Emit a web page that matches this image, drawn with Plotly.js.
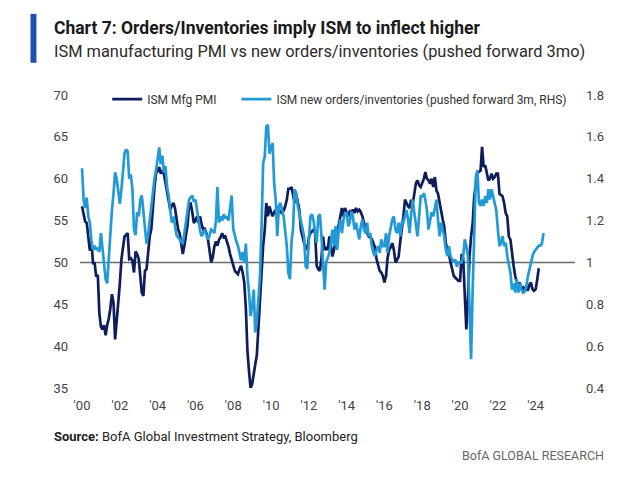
<!DOCTYPE html>
<html>
<head>
<meta charset="utf-8">
<script src="https://cdn.plot.ly/plotly-3.0.1.min.js"></script>
<style>
html,body{margin:0;padding:0;background:#fff;}
#chart{width:640px;height:495px;}
</style>
</head>
<body>
<div id="chart"></div>
<script>
// ---- Data (monthly) ----
const START_YEAR = 2000;  // first month: Jan 2000

// ISM Manufacturing PMI (left axis), Jan 2000 – Mar 2024
const ismPmi = [
  56.7,55.8,54.9,54.7,53.2,51.4,52.5,49.9,49.9,48.3,48.5,43.9, // 2000
  42.3,42.0,42.5,41.3,42.5,43.3,44.5,46.2,45.2,40.8,43.0,44.8, // 2001
  47.5,50.4,52.0,53.1,53.3,53.5,50.4,50.5,50.2,48.8,51.3,51.0, // 2002
  50.4,48.2,46.4,46.0,49.0,49.2,51.0,53.1,54.0,56.7,59.0,60.6, // 2003
  61.0,61.4,60.6,61.0,60.6,59.4,58.6,57.5,56.3,56.8,57.1,56.5, // 2004
  55.0,53.9,53.5,52.0,51.0,52.0,53.1,54.5,56.9,57.0,56.0,54.7, // 2005
  55.0,55.5,54.7,55.5,54.5,53.9,54.0,53.5,52.7,51.5,50.0,50.6, // 2006
  51.9,52.5,52.0,52.7,53.0,53.5,53.0,53.1,52.5,51.9,51.0,50.4, // 2007
  49.5,49.0,48.8,48.6,49.2,49.6,48.8,47.6,44.5,39.5,37.0,35.0, // 2008
  35.5,36.5,37.8,38.9,42.1,46.0,50.0,52.0,53.9,57.1,55.5,56.7, // 2009
  56.0,55.5,56.0,56.3,56.5,56.3,56.0,55.9,56.2,56.7,57.5,58.8, // 2010
  58.8,59.0,57.8,57.1,58.2,57.0,56.3,53.9,53.0,52.3,51.8,51.5, // 2011
  53.0,53.5,53.7,53.9,53.5,49.6,49.2,49.0,50.5,53.1,51.5,51.7, // 2012
  51.5,53.1,52.0,50.7,51.5,53.1,53.9,54.5,55.5,56.5,55.5,56.5, // 2013
  55.9,55.5,56.1,56.0,56.3,55.9,56.5,56.1,56.3,56.0,55.5,54.7, // 2014
  54.0,53.5,53.1,53.0,52.8,52.3,51.8,50.4,49.5,49.0,48.8,48.4, // 2015
  47.6,48.4,50.5,51.5,51.8,52.3,51.5,50.0,50.3,50.7,52.5,53.9, // 2016
  55.5,57.5,57.0,56.7,56.5,57.5,57.0,58.6,59.5,59.8,59.2,59.0, // 2017
  59.5,60.0,60.8,60.0,59.8,59.4,60.0,59.0,60.2,58.6,58.2,57.0, // 2018
  55.9,55.1,54.3,52.3,51.5,51.0,50.0,49.2,48.4,48.2,48.0,47.8, // 2019
  47.8,51.0,50.5,47.0,42.0,45.5,50.7,53.1,54.7,57.9,59.8,60.8, // 2020
  60.8,61.0,63.8,61.4,61.6,60.5,59.8,60.0,60.6,60.0,60.2,60.6, // 2021
  60.6,58.2,58.0,57.9,57.1,55.9,55.5,53.1,52.7,51.0,49.6,48.4, // 2022
  47.6,47.2,47.6,46.8,47.0,46.6,47.2,46.6,47.3,47.6,46.8,46.6, // 2023
  46.8,48.0,49.3                                               // 2024
];

// ISM new orders / inventories ratio, pushed forward 3m (right axis), Jan 2000 – Jun 2024
const newOrdersInv = [
  1.45,1.30,1.26,1.31,1.22,1.19,1.10,1.06,1.08,1.06,1.07,1.05, // 2000
  1.14,1.06,1.00,0.92,0.90,1.02,1.16,1.25,1.33,1.43,1.40,1.35, // 2001
  1.28,1.35,1.45,1.52,1.54,1.53,1.40,1.42,1.35,1.16,1.13,1.24, // 2002
  1.22,1.30,1.32,1.25,1.19,1.09,1.13,1.20,1.28,1.35,1.40,1.44, // 2003
  1.50,1.55,1.47,1.51,1.43,1.46,1.36,1.32,1.25,1.19,1.22,1.18, // 2004
  1.13,1.12,1.11,1.10,1.09,1.14,1.19,1.25,1.30,1.31,1.32,1.29, // 2005
  1.30,1.25,1.19,1.15,1.125,1.14,1.157,1.13,1.11,1.13,1.157,1.15, // 2006
  1.14,1.20,1.36,1.19,1.22,1.20,1.23,1.21,1.22,1.20,1.27,1.32, // 2007
  1.16,1.125,1.10,1.08,1.05,1.01,1.05,1.00,1.09,0.935,0.856,0.744, // 2008
  0.79,0.87,0.665,0.72,0.824,0.935,1.17,1.475,1.506,1.65,1.657,1.52, // 2009
  1.55,1.57,1.38,1.30,1.125,1.27,1.284,1.25,1.22,1.15,1.08,0.95, // 2010
  0.92,1.10,1.16,1.35,1.33,1.27,1.23,1.19,1.15,1.125,0.98,0.97, // 2011
  1.10,1.22,1.23,1.20,1.14,1.094,1.22,1.23,1.125,0.98,0.87,1.00, // 2012
  1.03,1.046,1.094,1.157,1.078,1.173,1.06,1.157,1.205,1.14,1.205,1.236, // 2013
  1.236,1.173,1.19,1.244,1.22,1.157,1.19,1.14,1.11,1.173,1.205,1.157, // 2014
  1.14,1.19,1.125,1.14,1.078,1.046,1.03,1.06,1.078,1.046,1.11,1.078, // 2015
  1.078,1.14,1.046,1.125,1.157,1.205,1.22,1.157,1.14,1.19,1.125,1.19, // 2016
  1.19,1.22,1.25,1.205,1.14,1.236,1.30,1.236,1.19,1.125,1.22,1.316, // 2017
  1.316,1.33,1.30,1.25,1.157,1.2,1.24,1.22,1.27,1.30,1.205,1.125, // 2018
  1.19,1.157,1.125,1.06,1.03,1.078,1.03,1.014,1.0,1.014,0.98,1.0, // 2019
  1.0,1.0,1.03,1.11,1.078,1.03,0.79,0.538,0.87,1.19,1.41,1.44, // 2020
  1.284,1.27,1.30,1.27,1.316,1.284,1.35,1.30,1.35,1.316,1.28,1.25, // 2021
  1.157,1.078,1.094,1.125,1.078,1.094,1.03,0.98,0.95,0.87,0.90,0.856, // 2022
  0.92,0.856,0.90,0.87,0.856,0.86,0.88,0.93,0.97,1.00,1.03,1.05, // 2023
  1.06,1.07,1.08,1.08,1.09,1.14                                // 2024
];

const seriesNames = ['ISM Mfg PMI', 'ISM new orders/inventories (pushed forward 3m, RHS)'];
const xTickYears = ['2000','2002','2004','2006','2008','2010','2012','2014','2016','2018','2020','2022','2024'];
const xTickText  = ["'00","'02","'04","'06","'08","'10","'12","'14","'16","'18","'20","'22","'24"];
const leftTicks  = [35, 40, 45, 50, 55, 60, 65, 70];
const rightTicks = [0.4, 0.6, 0.8, 1, 1.2, 1.4, 1.6, 1.8];
const rightTickText = ['0.4', '0.6', '0.8', '1', '1.2', '1.4', '1.6', '1.8'];
const refLevel = 50;

const titleText = 'Chart 7: Orders/Inventories imply ISM to inflect higher';
const subtitleText = 'ISM manufacturing PMI vs new orders/inventories (pushed forward 3mo)';
const sourceText = '<b>Source:</b> BofA Global Investment Strategy, Bloomberg';
const brandText = 'BofA GLOBAL RESEARCH';

// month dates for the x positions
function monthDates(n) {
  const out = [];
  for (let i = 0; i < n; i++) {
    const y = START_YEAR + Math.floor(i / 12);
    const m = (i % 12) + 1;
    out.push(y + '-' + (m < 10 ? '0' + m : m) + '-01');
  }
  return out;
}

const FONT = 'Roboto, "Open Sans", Arial, sans-serif';
const DARK = '#0f1e5a';
const LIGHT = '#239ad6';

const traces = [
  {
    x: monthDates(ismPmi.length), y: ismPmi, name: seriesNames[0],
    type: 'scatter', mode: 'lines', yaxis: 'y', legend: 'legend',
    line: {color: DARK, width: 2.7}
  },
  {
    x: monthDates(newOrdersInv.length), y: newOrdersInv, name: seriesNames[1],
    type: 'scatter', mode: 'lines', yaxis: 'y2', legend: 'legend2',
    line: {color: LIGHT, width: 2.7}
  }
];

const legendCommon = {
  orientation: 'h', xanchor: 'left', y: 0.986, yanchor: 'middle',
  bgcolor: 'rgba(0,0,0,0)', font: {family: FONT, size: 12, color: '#333'},
  itemwidth: 30
};

const layout = {
  width: 640, height: 495,
  margin: {l: 80, r: 65, t: 95, b: 107},
  paper_bgcolor: '#fff', plot_bgcolor: '#fff',
  font: {family: FONT, size: 12, color: '#444'},
  showlegend: true,
  legend: Object.assign({}, legendCommon, {x: 0.055}),
  legend2: Object.assign({}, legendCommon, {x: 0.316}),
  xaxis: {
    type: 'date', range: ['1999-11-23', '2026-01-30'],
    tickvals: xTickYears.map(function (y) { return y + '-01-01'; }), ticktext: xTickText,
    showgrid: false, zeroline: false, showline: false, ticks: '',
    ticklabelstandoff: 8,
    tickfont: {family: FONT, size: 13, color: '#444'}
  },
  yaxis: {
    range: [35, 70], tickvals: leftTicks, showgrid: false, zeroline: false,
    showline: false, ticks: '', ticklabelstandoff: 11,
    tickfont: {family: FONT, size: 13, color: '#444'}
  },
  yaxis2: {
    range: [0.4, 1.8], tickvals: rightTicks, ticktext: rightTickText,
    overlaying: 'y', side: 'right', showgrid: false, zeroline: false,
    showline: false, ticks: '', ticklabelstandoff: 10,
    tickfont: {family: FONT, size: 13, color: '#444'}
  },
  shapes: [
    {type: 'line', xref: 'paper', yref: 'y', x0: 0, x1: 1, y0: refLevel, y1: refLevel,
     line: {color: '#6b6b6b', width: 1.6}, layer: 'below'},
    {type: 'rect', xref: 'paper', yref: 'paper', x0: -0.1, x1: -0.088, y0: 1.11, y1: 1.277,
     fillcolor: '#1f50b0', line: {width: 0}}
  ],
  annotations: [
    {text: '<b>' + titleText + '</b>', xref: 'paper', yref: 'paper', x: -0.057, y: 1.228,
     xanchor: 'left', yanchor: 'middle', showarrow: false,
     font: {family: FONT, size: 17.5, color: '#1a1a1a'}},
    {text: subtitleText, xref: 'paper', yref: 'paper', x: -0.057, y: 1.149,
     xanchor: 'left', yanchor: 'middle', showarrow: false,
     font: {family: FONT, size: 16.4, color: '#2a2a2a'}},
    {text: sourceText, xref: 'paper', yref: 'paper', x: -0.057, y: -0.167,
     xanchor: 'left', yanchor: 'middle', showarrow: false,
     font: {family: FONT, size: 13, color: '#222'}},
    {text: brandText, xref: 'paper', yref: 'paper', x: 1.063, y: -0.229,
     xanchor: 'right', yanchor: 'middle', showarrow: false,
     font: {family: FONT, size: 12.5, color: '#666'}}
  ]
};

Plotly.newPlot('chart', traces, layout, {displayModeBar: false, staticPlot: true});
</script>
</body>
</html>
